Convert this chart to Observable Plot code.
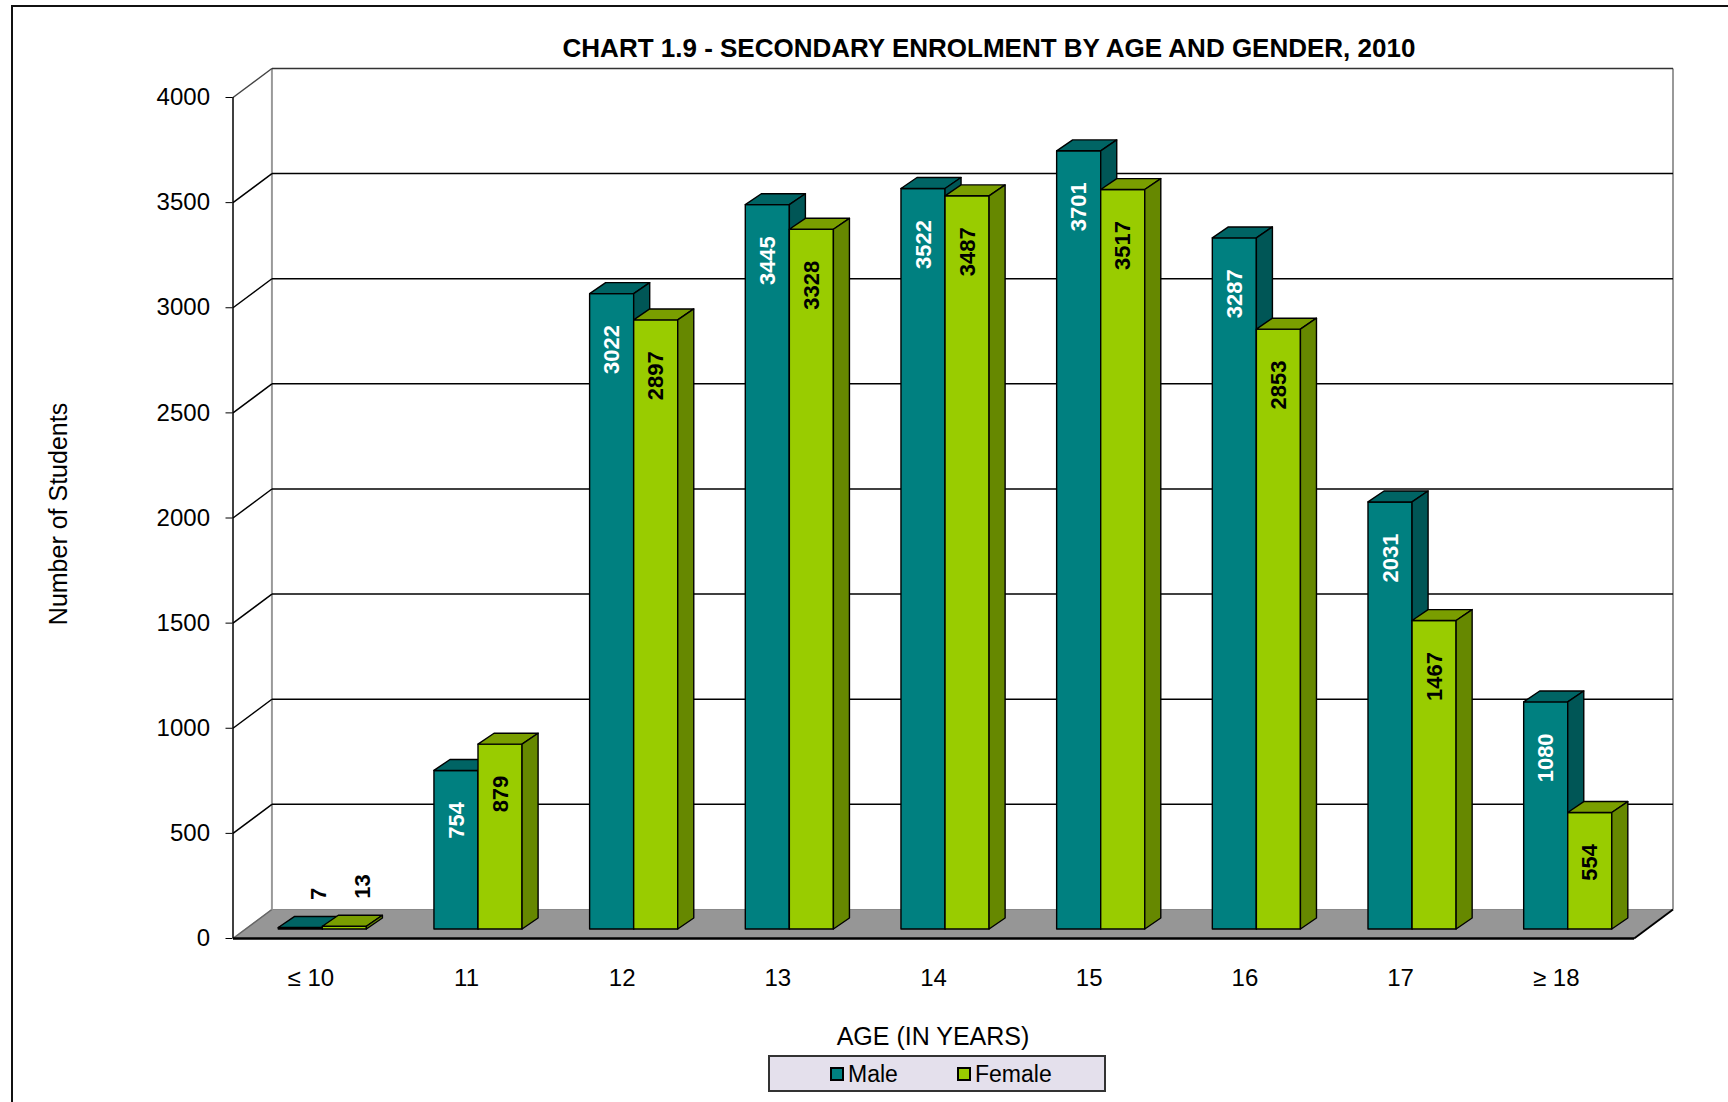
<!DOCTYPE html>
<html>
<head>
<meta charset="utf-8">
<script src="https://cdn.jsdelivr.net/npm/d3@7"></script>
<script src="https://cdn.jsdelivr.net/npm/@observablehq/plot@0.6"></script>
<style>
  html, body { margin: 0; padding: 0; background: #fff; overflow: hidden; width: 1728px; height: 1102px; }
  body { font-family: "Liberation Sans", Arial, sans-serif; color: #000; position: relative; }
  #frame { position: absolute; left: 11px; top: 5px; width: 1760px; height: 1140px; border: 2px solid #111; box-sizing: border-box; }
  #title { position: absolute; left: 0; top: 33px; width: 1978px; text-align: center; line-height: 30px; font-size: 26px; font-weight: bold; }
  #chart { position: absolute; left: 0; top: 60px; }
  #xtitle { position: absolute; left: 0; top: 1021px; width: 1866px; text-align: center; line-height: 30px; font-size: 25px; }
  #legend { position: absolute; left: 768px; top: 1055px; width: 338px; height: 37px; box-sizing: border-box; border: 2px solid #333; background: #E4E0EC; font-size: 23px; }
  #legend .sw { position: absolute; top: 10px; width: 10px; height: 10px; border: 2px solid #000; }
  #legend .lb { position: absolute; top: 4px; line-height: 26px; }
</style>
</head>
<body>
<div id="frame"></div>
<div id="title">CHART 1.9 - SECONDARY ENROLMENT BY AGE AND GENDER, 2010</div>
<div id="chart"></div>
<div id="xtitle">AGE (IN YEARS)</div>
<div id="legend">
  <div class="sw" style="left:60px;background:#008080"></div><div class="lb" style="left:78px">Male</div>
  <div class="sw" style="left:187px;background:#99CC00"></div><div class="lb" style="left:205px">Female</div>
</div>
<script>
// ---- data ----
const categories = ["≤ 10", "11", "12", "13", "14", "15", "16", "17", "≥ 18"];
const male = [7, 754, 3022, 3445, 3522, 3701, 3287, 2031, 1080];
const female = [13, 879, 2897, 3328, 3487, 3517, 2853, 1467, 554];
const seriesNames = ["Male", "Female"];
const yTicks = [0, 500, 1000, 1500, 2000, 2500, 3000, 3500, 4000];
const yLabel = "Number of Students";

// ---- 3D geometry (in data units) ----
const BAR_W = 0.283;      // width of one bar, in category units
const SHIFT_X = 0.077;    // bars sit part-way into the floor depth
const SHIFT_Y = 43;
const DEPTH_X = 0.103;    // bar depth
const DEPTH_Y = 52;
const WALL_X = 0.25;      // floor / wall depth
const WALL_Y = 138;
const N = categories.length;

const colors = {
  Male:   {front: "#008080", top: "#006464", side: "#005656"},
  Female: {front: "#99CC00", top: "#7A9E00", side: "#668800"}
};

const bars = categories.flatMap((c, i) => [male[i], female[i]].map((v, s) => {
  const xl = i + 0.5 - BAR_W + s * BAR_W + SHIFT_X;
  return {cat: c, series: seriesNames[s], value: v, id: i * 2 + s,
          xl, xr: xl + BAR_W, base: SHIFT_Y, top: v + SHIFT_Y};
}));

const topFaces = bars.flatMap(b => [
  {id: b.id, series: b.series, y: b.top, x1: b.xl, x2: b.xr},
  {id: b.id, series: b.series, y: b.top + DEPTH_Y, x1: b.xl + DEPTH_X, x2: b.xr + DEPTH_X}
]);
const sideFaces = bars.flatMap(b => [
  {id: b.id, series: b.series, x: b.xr, y1: b.base, y2: b.top},
  {id: b.id, series: b.series, x: b.xr + DEPTH_X, y1: b.base + DEPTH_Y, y2: b.top + DEPTH_Y}
]);

const grid = yTicks.filter(v => v > 0);

function barMarks(name) {
  const c = colors[name];
  const stroke = {stroke: "#000", strokeWidth: 1.4, strokeLinejoin: "round"};
  return [
    Plot.rect(bars.filter(d => d.series === name), {x1: "xl", x2: "xr", y1: "base", y2: "top", fill: c.front, ...stroke}),
    Plot.areaX(topFaces.filter(d => d.series === name), {y: "y", x1: "x1", x2: "x2", z: "id", fill: c.top, ...stroke}),
    Plot.areaY(sideFaces.filter(d => d.series === name), {x: "x", y1: "y1", y2: "y2", z: "id", fill: c.side, ...stroke})
  ];
}

const chart = Plot.plot({
  width: 1728,
  height: 950,
  marginLeft: 232.5,
  marginRight: 55.5,
  marginTop: 37,
  marginBottom: 72,
  style: {fontFamily: "'Liberation Sans', Arial, sans-serif", fontSize: "24px", color: "#000", background: "transparent", overflow: "visible"},
  x: {domain: [0, N + WALL_X]},
  y: {domain: [0, 4000]},
  marks: [
    // floor
    Plot.areaX([{y: 0, x1: 0, x2: N}, {y: WALL_Y, x1: WALL_X, x2: N + WALL_X}], {y: "y", x1: "x1", x2: "x2", fill: "#969696"}),
    Plot.link([{a: 0}], {x1: 0, y1: 0, x2: WALL_X, y2: WALL_Y, stroke: "#666", strokeWidth: 1.5}),
    Plot.link([{a: 0}], {x1: WALL_X, y1: WALL_Y, x2: N + WALL_X, y2: WALL_Y, stroke: "#888", strokeWidth: 1}),
    // back wall edges
    Plot.link([WALL_X, N + WALL_X], {x1: d => d, x2: d => d, y1: WALL_Y, y2: 4000 + WALL_Y, stroke: "#999", strokeWidth: 2}),
    // side-wall diagonals and back-wall gridlines
    Plot.link(grid, {x1: 0, y1: d => d, x2: WALL_X, y2: d => d + WALL_Y, stroke: d => d === 4000 ? "#444" : "#000", strokeWidth: 1.5}),
    Plot.link(grid, {x1: WALL_X, y1: d => d + WALL_Y, x2: N + WALL_X, y2: d => d + WALL_Y, stroke: d => d === 4000 ? "#333" : "#000", strokeWidth: 1.5}),
    // front floor edges
    Plot.link([{a: 0}], {x1: 0, y1: 0, x2: N, y2: 0, stroke: "#000", strokeWidth: 2.5}),
    Plot.link([{a: 0}], {x1: N, y1: 0, x2: N + WALL_X, y2: WALL_Y, stroke: "#000", strokeWidth: 2}),
    // front y axis line
    Plot.ruleX([0], {y1: 0, y2: 4000, stroke: "#000", strokeWidth: 1.5}),
    Plot.axisY({ticks: yTicks, tickSize: 7, tickPadding: 16, tickFormat: d => String(d), label: null}),
    Plot.text([yLabel], {frameAnchor: "left", text: d => d, rotate: -90, textAnchor: "middle", lineAnchor: "middle",
                         dx: -174, dy: -4, fontSize: 25}),
    Plot.axisX({ticks: d3.range(N).map(i => i + 0.5), tickFormat: d => categories[Math.floor(d)],
                tickSize: 0, tickPadding: 30, label: null}),
    // bars
    ...barMarks("Male"),
    ...barMarks("Female"),
    // value labels
    Plot.text(bars.filter(d => d.value >= 100), {
      x: d => (d.xl + d.xr) / 2, y: "top", text: d => String(d.value), rotate: -90,
      textAnchor: "end", lineAnchor: "middle", dy: 31, fontSize: 22, fontWeight: "bold",
      fill: d => d.series === "Male" ? "#fff" : "#000"
    }),
    Plot.text(bars.filter(d => d.value < 100), {
      x: d => (d.xl + d.xr) / 2, y: "top", text: d => String(d.value), rotate: -90,
      textAnchor: "start", lineAnchor: "middle", dx: 18, dy: -28, fontSize: 22, fontWeight: "bold", fill: "#000"
    })
  ]
});
document.getElementById("chart").appendChild(chart);
</script>
</body>
</html>
